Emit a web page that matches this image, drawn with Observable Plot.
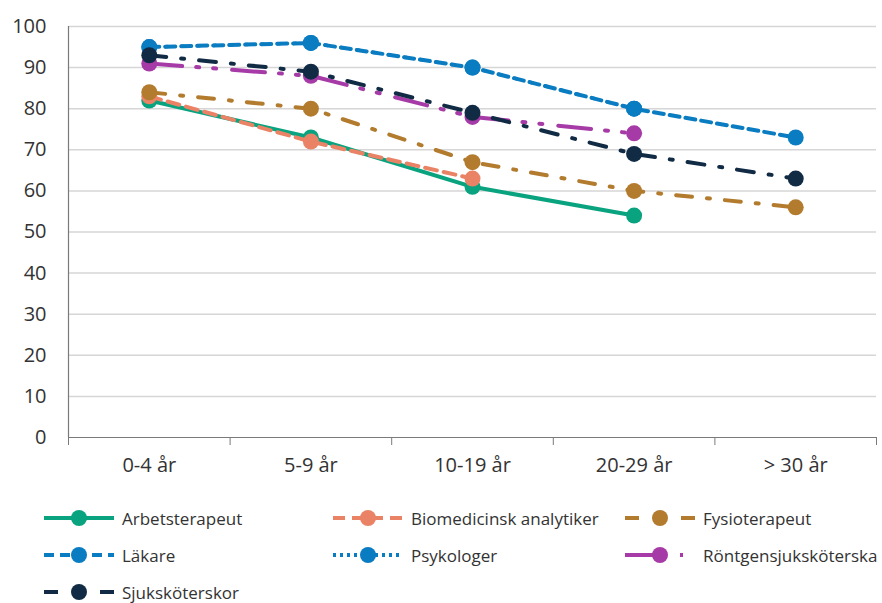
<!DOCTYPE html>
<html><head><meta charset="utf-8">
<script src="https://cdn.jsdelivr.net/npm/d3@7"></script>
<script src="https://cdn.jsdelivr.net/npm/@observablehq/plot@0.6"></script>
<style>
body{margin:0;background:#fff;font-family:"Open Sans",sans-serif;}
#wrap{position:relative;width:882px;height:603px;}
#legend{position:absolute;left:0;top:0;width:882px;height:603px;pointer-events:none;}
.item{position:absolute;display:flex;align-items:center;font-size:17px;color:#333;height:24px;}
.item svg{margin-right:8px;}
</style></head>
<body><div id="wrap"><div id="chart"></div><div id="legend"></div></div>
<script>
const categories = ["0-4 år","5-9 år","10-19 år","20-29 år","> 30 år"];
const yTicks = [0,10,20,30,40,50,60,70,80,90,100];
const seriesNames = ["Arbetsterapeut","Biomedicinsk analytiker","Fysioterapeut","Läkare","Psykologer","Röntgensjuksköterska","Sjuksköterskor"];
const arbetsterapeut = [82,73,61,54,null];
const biomedicinsk = [83,72,63,null,null];
const fysioterapeut = [84,80,67,60,56];
const lakare = [95,96,90,80,73];
const psykologer = [95,96,90,80,null];
const rontgen = [91,88,78,74,null];
const sjukskoterskor = [93,89,79,69,63];
const seriesValues = [arbetsterapeut,biomedicinsk,fysioterapeut,lakare,psykologer,rontgen,sjukskoterskor];
const colors = ["#0aa37f","#ea8366","#b27b2e","#0a7cc1","#0a7cc1","#a63aa6","#112b45"];
const dashes = ["none","12,7","16,15,3,15","10,6","2.5,13.5","33,14,3,14,3,16","17,15,3,15"];
const widths = [4,4,4,4,3.5,4,4];

const idx = categories.map((c,i)=>i);
const marks = [
  Plot.ruleY(yTicks.filter(d=>d>0), {stroke:"#d6d6d6", strokeWidth:1.5}),
  Plot.ruleY([0], {stroke:"#7a7a7a", strokeWidth:1.2}),
  Plot.ruleX([-0.5], {stroke:"#7a7a7a", strokeWidth:1.2}),
  Plot.axisY({ticks:yTicks, tickSize:0, tickPadding:22, fontSize:20, fill:"#333", label:null}),
  Plot.axisX({ticks:[-0.5,0.5,1.5,2.5,3.5,4.5], tickSize:8, tickFormat:()=>"", stroke:"#7a7a7a", label:null}),
  Plot.axisX({ticks:idx, tickSize:0, tickPadding:20, tickFormat:i=>categories[i], fontSize:20, fill:"#333", label:null})
];
seriesValues.forEach((vals,s)=>{
  const rows = vals.map((v,i)=>({i, v})).filter(d=>d.v!=null);
  marks.push(Plot.line(rows,{x:"i",y:"v",stroke:colors[s],strokeWidth:widths[s],strokeDasharray:dashes[s]}));
  marks.push(Plot.dot(rows,{x:"i",y:"v",fill:colors[s],r:8,stroke:null}));
});

const chart = Plot.plot({
  width:882, height:490,
  marginLeft:68, marginRight:6, marginTop:26, marginBottom:53,
  style:{fontFamily:"Open Sans", fontSize:"20px", background:"#fff"},
  x:{domain:[-0.5,4.5], axis:null},
  y:{domain:[0,100], axis:null},
  marks
});
document.getElementById("chart").appendChild(chart);

const pos = [[44,518],[333,518],[625,518],[44,555],[333,555],[625,555],[44,592]];
const legend = document.getElementById("legend");
seriesNames.forEach((name,s)=>{
  const el = document.createElement("div");
  el.className="item";
  el.style.left = pos[s][0]+"px";
  el.style.top = (pos[s][1]-12)+"px";
  const ns="http://www.w3.org/2000/svg";
  const svg=document.createElementNS(ns,"svg");
  svg.setAttribute("width","70");svg.setAttribute("height","24");
  const line=document.createElementNS(ns,"line");
  line.setAttribute("x1","0");line.setAttribute("x2","70");line.setAttribute("y1","12");line.setAttribute("y2","12");
  line.setAttribute("stroke",colors[s]);line.setAttribute("stroke-width","4");
  const legDash = ["none","12,7","14,14","10,6","3,4","35,20,3,20","14,14"];
  if(legDash[s]!=="none") line.setAttribute("stroke-dasharray", legDash[s]);
  const c=document.createElementNS(ns,"circle");
  c.setAttribute("cx","35");c.setAttribute("cy","12");c.setAttribute("r","8");c.setAttribute("fill",colors[s]);
  svg.appendChild(line);svg.appendChild(c);
  el.appendChild(svg);
  const t=document.createElement("span");t.textContent=name;el.appendChild(t);
  legend.appendChild(el);
});
</script></body></html>
